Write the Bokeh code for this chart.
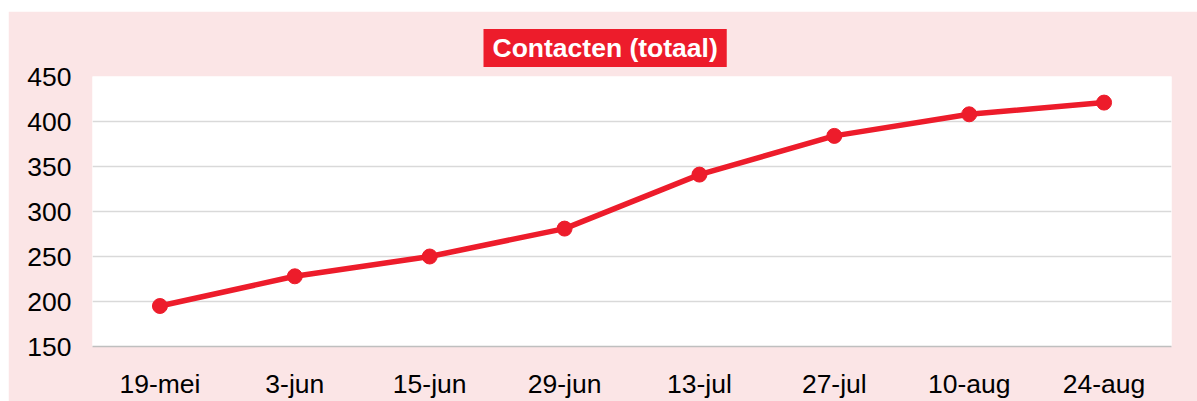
from bokeh.plotting import figure
from bokeh.models import SingleIntervalTicker
from bokeh.embed import file_html
from bokeh.resources import INLINE

categories = ["19-mei", "3-jun", "15-jun", "29-jun", "13-jul", "27-jul", "10-aug", "24-aug"]
contacten = [195, 228, 250, 281, 341, 384, 408, 421]
title_text = "Contacten (totaal)"

RED = "#ED1C2B"
PINK = "#FBE5E6"
FONT = "Liberation Sans"

p = figure(x_range=categories, y_range=(150, 450), width=1189, height=390,
           output_backend="svg", toolbar_location=None,
           min_border_left=84, min_border_right=26, min_border_top=65, min_border_bottom=51)
p.margin = (11, 0, 0, 8)
p.border_fill_color = PINK
p.background_fill_color = "white"
p.outline_line_color = None

p.line(categories, contacten, line_color=RED, line_width=5.5)
p.scatter(categories, contacten, size=15, fill_color=RED, line_color=RED)

p.yaxis.ticker = SingleIntervalTicker(interval=50)
p.yaxis.axis_line_color = None
p.yaxis.major_tick_line_color = None
p.yaxis.minor_tick_line_color = None
p.yaxis.major_label_standoff = 15
p.xaxis.axis_line_color = "#BFBFBF"
p.xaxis.axis_line_width = 1.5
p.xaxis.major_tick_line_color = None
p.xaxis.minor_tick_line_color = None
p.xaxis.major_label_standoff = 16
for ax in (p.xaxis, p.yaxis):
    ax.major_label_text_font = FONT
    ax.major_label_text_font_size = "26.5px"
    ax.major_label_text_color = "black"

p.xgrid.grid_line_color = None
p.ygrid.grid_line_color = "#D9D9D9"
p.ygrid.grid_line_width = 1.5

p.title.text = title_text
p.title.align = "left"
p.title.offset = 391
p.title.standoff = 19
p.title.text_font = FONT
p.title.text_font_style = "bold"
p.title.text_font_size = "26.5px"
p.title.text_color = "white"
p.title.background_fill_color = RED
p.title.padding = (9, 4)

open("out.html", "w").write(file_html(p, INLINE))
